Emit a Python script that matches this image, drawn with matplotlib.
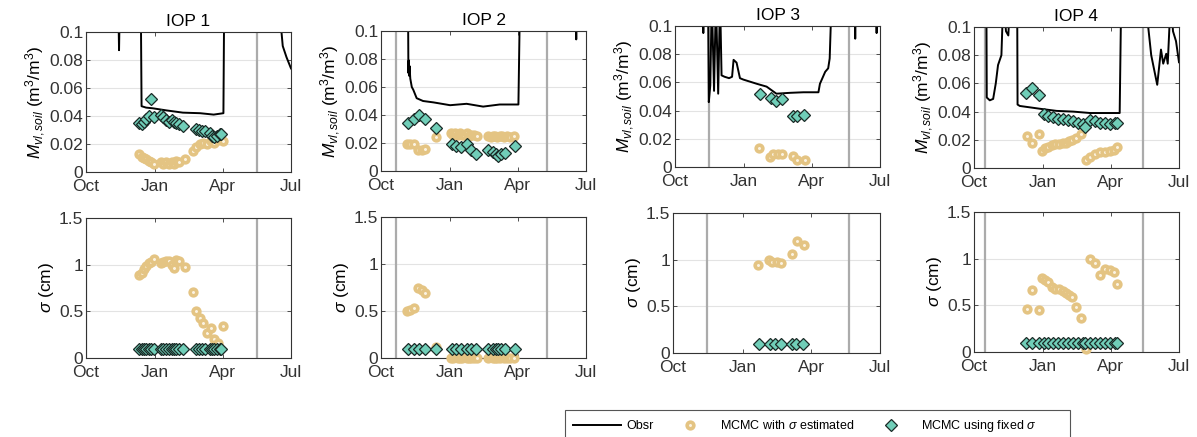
import numpy as np
import matplotlib.pyplot as plt
from matplotlib.lines import Line2D
from matplotlib.patches import Rectangle

plt.rcParams['font.family'] = ['Liberation Sans', 'DejaVu Sans']
plt.rcParams['mathtext.fontset'] = 'custom'
plt.rcParams['mathtext.rm'] = 'Liberation Sans'
plt.rcParams['mathtext.it'] = 'Liberation Sans:italic'

# x axis: days counted from 1 Oct
month_ticks = [0, 92, 182, 273]
month_labels = ['Oct', 'Jan', 'Apr', 'Jul']
iop_titles = ['IOP 1', 'IOP 2', 'IOP 3', 'IOP 4']
msoil_ticks = [0, 0.02, 0.04, 0.06, 0.08, 0.1]
msoil_labels = ['0', '0.02', '0.04', '0.06', '0.08', '0.1']
sigma_ticks = [0, 0.5, 1, 1.5]
sigma_labels = ['0', '0.5', '1', '1.5']

# start / end of each IOP window (grey lines)
iop_bounds = [(0, 228), (20, 221), (45, 232), (15, 225)]

FIXED_SIGMA = 0.1

# --- IOP 1 ---
obs1_day = [0, 43, 44, 45, 73, 74, 80, 89, 107, 129, 152, 170, 183, 184, 257, 262, 267, 273]
obs1_val = [0.12, 0.12, 0.087, 0.12, 0.12, 0.047, 0.046, 0.0455, 0.044, 0.0424, 0.042, 0.041,
            0.042, 0.12, 0.12, 0.09, 0.082, 0.074]
est1_day = [71, 74, 77, 80, 84, 87, 91, 100, 103, 107, 110, 114, 117, 120, 124, 132,
            143, 147, 152, 156, 161, 166, 170, 176, 182]
est1_msoil = [0.013, 0.011, 0.010, 0.009, 0.008, 0.007, 0.006, 0.007, 0.006, 0.007, 0.006, 0.007,
              0.006, 0.008, 0.007, 0.009, 0.015, 0.018, 0.020, 0.021, 0.020, 0.022, 0.021, 0.023, 0.022]
est1_sigma = [0.89, 0.91, 0.95, 0.99, 1.02, 1.03, 1.06, 1.02, 1.03, 1.04, 1.04, 1.00, 0.96, 1.05,
              1.04, 0.98, 0.71, 0.50, 0.43, 0.37, 0.27, 0.32, 0.20, 0.16, 0.34]
fix1_day = [71, 74, 77, 80, 84, 87, 91, 100, 103, 107, 111, 114, 117, 120, 124, 129,
            147, 150, 155, 159, 165, 168, 171, 174, 178, 180]
fix1_msoil = [0.035, 0.034, 0.036, 0.038, 0.040, 0.052, 0.039, 0.041, 0.039, 0.037, 0.036, 0.037,
              0.036, 0.035, 0.034, 0.033, 0.031, 0.030, 0.029, 0.029, 0.028, 0.026, 0.025, 0.026,
              0.027, 0.027]

# --- IOP 2 ---
obs2_day = [0, 36, 36.5, 37, 37.5, 38, 39, 41, 43, 47.5, 56, 70, 92, 114, 136, 158, 183, 185,
            259, 260, 261, 273]
obs2_val = [0.12, 0.12, 0.07, 0.079, 0.068, 0.075, 0.066, 0.06, 0.058, 0.052, 0.05, 0.049, 0.047,
            0.048, 0.046, 0.0475, 0.0475, 0.12, 0.12, 0.094, 0.12, 0.12]
est2_day = [35, 39, 44, 49, 54, 59, 73, 93, 96, 99, 102, 105, 108, 111, 114, 117, 120, 124, 128,
            143, 146, 149, 152, 155, 158, 161, 164, 168, 172, 177]
est2_msoil = [0.019, 0.019, 0.019, 0.015, 0.015, 0.016, 0.024,
              0.027, 0.026, 0.027, 0.026, 0.027, 0.026, 0.026, 0.027, 0.025, 0.026, 0.026, 0.025,
              0.025, 0.024, 0.025, 0.025, 0.024, 0.025, 0.025, 0.024, 0.025, 0.024, 0.025]
est2_sigma = [0.50, 0.51, 0.53, 0.74, 0.72, 0.69, 0.12,
              0.0, 0.0, 0.01, 0.0, 0.0, 0.0, 0.01, 0.0, 0.0, 0.0, 0.0, 0.0,
              0.0, 0.01, 0.0, 0.0, 0.0, 0.0, 0.01, 0.0, 0.0, 0.0, 0.0]
fix2_day = [36, 44, 50, 58, 73, 94, 100, 107, 115, 120, 127, 142, 149, 153, 156, 160, 165, 178]
fix2_msoil = [0.034, 0.037, 0.040, 0.037, 0.031, 0.019, 0.018, 0.017, 0.019, 0.015, 0.012, 0.015,
              0.0136, 0.012, 0.011, 0.012, 0.013, 0.018]

# --- IOP 3 ---
obs3_day = [0, 37, 37.7, 38.5, 44, 45, 47, 49, 52, 54.5, 57.5, 60, 62, 66, 72, 76, 78, 82, 86.5,
            91, 109, 122, 135, 153, 171, 191, 193, 200, 204, 206, 208.6, 239, 240, 241, 268, 268.5,
            269, 273]
obs3_val = [0.12, 0.12, 0.095, 0.12, 0.12, 0.046, 0.058, 0.12, 0.054, 0.12, 0.052, 0.12, 0.065,
            0.064, 0.063, 0.064, 0.076, 0.074, 0.063, 0.062, 0.059, 0.057, 0.052, 0.0526, 0.053,
            0.053, 0.059, 0.0675, 0.07, 0.077, 0.12, 0.12, 0.091, 0.12, 0.12, 0.095, 0.12, 0.12]
est3_day = [112, 126, 131, 137, 143, 157, 163, 173]
est3_msoil = [0.0135, 0.007, 0.009, 0.009, 0.009, 0.008, 0.005, 0.005]
est3_sigma = [0.94, 1.00, 0.98, 0.97, 0.96, 1.06, 1.20, 1.16]
fix3_day = [113, 128, 134, 142, 157, 162, 172]
fix3_msoil = [0.052, 0.049, 0.047, 0.048, 0.036, 0.036, 0.037]

# --- IOP 4 ---
obs4_day = [0, 16.5, 17, 21, 25.5, 29, 32, 36.5, 39, 42.6, 45.7, 48, 57.5, 58, 61, 74.6, 88, 110,
            132, 154.5, 175, 194, 196, 228, 236, 244, 249, 252, 256, 258, 262, 265, 269, 273]
obs4_val = [0.12, 0.12, 0.050, 0.048, 0.049, 0.06, 0.073, 0.08, 0.12, 0.097, 0.094, 0.12, 0.12,
            0.045, 0.044, 0.043, 0.042, 0.0405, 0.04, 0.039, 0.039, 0.039, 0.12, 0.12, 0.08, 0.059,
            0.084, 0.074, 0.081, 0.074, 0.12, 0.097, 0.09, 0.075]
est4_day = [70, 77, 87, 91, 95, 99, 104, 108, 113, 118, 123, 127, 131, 136, 142,
            149, 154, 161, 168, 175, 181, 187, 191]
est4_msoil = [0.023, 0.018, 0.024, 0.012, 0.014, 0.015, 0.016, 0.017, 0.017, 0.018, 0.018, 0.019,
              0.020, 0.021, 0.024, 0.006, 0.008, 0.010, 0.011, 0.011, 0.012, 0.013, 0.015]
est4_sigma = [0.46, 0.66, 0.45, 0.79, 0.77, 0.75, 0.70, 0.68, 0.67, 0.65, 0.63, 0.61, 0.59, 0.48,
              0.36, 0.03, 1.00, 0.95, 0.83, 0.89, 0.88, 0.86, 0.73]
fix4_day = [69, 77, 86, 93, 99, 105, 112, 119, 125, 132, 139, 145, 148, 154, 161, 168, 174, 181,
            188, 190]
fix4_msoil = [0.053, 0.057, 0.052, 0.038, 0.037, 0.036, 0.035, 0.035, 0.034, 0.033, 0.032, 0.031,
              0.029, 0.034, 0.033, 0.032, 0.032, 0.031, 0.032, 0.032]

obs_days = [obs1_day, obs2_day, obs3_day, obs4_day]
obs_vals = [obs1_val, obs2_val, obs3_val, obs4_val]
est_days = [est1_day, est2_day, est3_day, est4_day]
est_msoil = [est1_msoil, est2_msoil, est3_msoil, est4_msoil]
est_sigma = [est1_sigma, est2_sigma, est3_sigma, est4_sigma]
fix_days = [fix1_day, fix2_day, fix3_day, fix4_day]
fix_msoil = [fix1_msoil, fix2_msoil, fix3_msoil, fix4_msoil]

W, H = 1197, 437
# axes boxes in pixels: left, top, right, bottom
top_boxes = [(86, 32, 291, 172), (381, 31, 586, 171), (675, 26, 880, 167), (974, 27, 1179, 168)]
bot_boxes = [(86, 218, 291, 358), (381, 217, 586, 358), (673, 213, 880, 353), (974, 212, 1179, 352)]

FS = 12.5
TAN_EDGE = '#e4c483'
TAN_FACE = '#fbf3e2'
TEAL = '#70ceb8'
DARK_EDGE = '#1a2a26'
AX_COL = '#333333'
est_style = dict(linestyle='none', marker='o', ms=4.8, mew=2.6, mfc=TAN_FACE, mec=TAN_EDGE)
fix_style = dict(linestyle='none', marker='D', ms=5.8, mew=0.9, mfc=TEAL, mec=DARK_EDGE)


def px_rect(box):
    l, t, r, b = box
    return [l / W, 1 - b / H, (r - l) / W, (b - t) / H]


def style_axis(ax):
    ax.set_xlim(0, 273)
    ax.set_xticks(month_ticks)
    ax.set_xticklabels(month_labels)
    ax.tick_params(direction='in', top=True, right=True, length=3, width=0.6,
                   labelsize=FS, colors=AX_COL, pad=2)
    ax.tick_params(axis='x', pad=5)
    for s in ax.spines.values():
        s.set_color(AX_COL)
        s.set_linewidth(0.8)
    ax.grid(axis='y', color='#e3e3e3', linewidth=0.8)
    ax.set_axisbelow(True)


fig = plt.figure(figsize=(W / 100, H / 100), dpi=100)

for i in range(4):
    ax = fig.add_axes(px_rect(top_boxes[i]))
    style_axis(ax)
    for b in iop_bounds[i]:
        ax.axvline(b, color='#ababab', linewidth=1.6, zorder=1)
    ax.plot(obs_days[i], obs_vals[i], color='black', linewidth=1.4, zorder=2)
    ax.plot(est_days[i], est_msoil[i], zorder=3, clip_on=False, **est_style)
    ax.plot(fix_days[i], fix_msoil[i], zorder=4, clip_on=False, **fix_style)
    ax.set_ylim(0, 0.1)
    ax.set_yticks(msoil_ticks)
    ax.set_yticklabels(msoil_labels)
    ax.set_ylabel(r'$M_{vl,soil}$ (m$^3$/m$^3$)', fontsize=FS, labelpad=1)
    ax.set_title(iop_titles[i], fontsize=FS, pad=4)

    ax2 = fig.add_axes(px_rect(bot_boxes[i]))
    style_axis(ax2)
    for b in iop_bounds[i]:
        ax2.axvline(b, color='#ababab', linewidth=1.6, zorder=1)
    ax2.plot(est_days[i], est_sigma[i], zorder=3, clip_on=False, **est_style)
    ax2.plot(fix_days[i], [FIXED_SIGMA] * len(fix_days[i]), zorder=4, clip_on=False, **fix_style)
    ax2.set_ylim(0, 1.5)
    ax2.set_yticks(sigma_ticks)
    ax2.set_yticklabels(sigma_labels)
    ax2.set_ylabel(r'$\sigma$ (cm)', fontsize=FS, labelpad=2)

# legend box (frame drawn separately, it runs past the bottom edge like the original)
fig.patches.append(Rectangle((565 / W, 1 - 440 / H), 505 / W, 30 / H, transform=fig.transFigure,
                             facecolor='white', edgecolor='#555555', linewidth=0.8, zorder=5))
handles = [
    Line2D([], [], color='black', linewidth=1.4),
    Line2D([], [], **est_style),
    Line2D([], [], **fix_style),
]
labels = ['Obsr', r'MCMC with $\sigma$ estimated', r'MCMC using fixed $\sigma$']
leg = fig.legend(handles, labels, ncol=3, loc='center left',
                 bbox_to_anchor=(573 / W, 1 - 426 / H), fontsize=9.0, frameon=False,
                 handlelength=3.8, handletextpad=0.5, columnspacing=1.0,
                 borderpad=0, borderaxespad=0)
leg.set_zorder(6)

fig.savefig('out.png', dpi=100)
